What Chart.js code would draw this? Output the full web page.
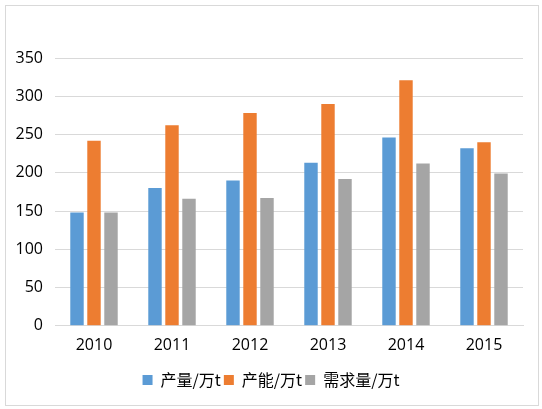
<!DOCTYPE html>
<html>
<head>
<meta charset="utf-8">
<script src="https://cdn.jsdelivr.net/npm/chart.js@4"></script>
<style>
html,body{margin:0;padding:0;background:#fff;}
#wrap{position:relative;width:542px;height:409px;}
#frame{position:absolute;left:5px;top:5px;width:532px;height:399px;border:1px solid #d9d9d9;pointer-events:none;}
canvas{position:absolute;left:0;top:0;}
</style>
</head>
<body>
<div id="wrap"><canvas id="c" width="542" height="409"></canvas><div id="frame"></div></div>
<script>
const categories = ['2010','2011','2012','2013','2014','2015'];
const seriesNames = ['产量/万t','产能/万t','需求量/万t'];
const output = [148,180,190,213,246,232];
const capacity = [242,262,278,290,321,240];
const demand = [148,166,167,192,212,199];
const yTicks = [0,50,100,150,200,250,300,350];
const colors = ['#5b9bd5','#ed7d31','#a5a5a5'];

const fontFamily = "'Open Sans','Noto Sans CJK SC',sans-serif";
new Chart(document.getElementById('c'), {
  type: 'bar',
  data: {
    labels: categories,
    datasets: [
      {label: seriesNames[0], data: output, backgroundColor: colors[0]},
      {label: seriesNames[1], data: capacity, backgroundColor: colors[1]},
      {label: seriesNames[2], data: demand, backgroundColor: colors[2]}
    ]
  },
  options: {
    responsive: false,
    animation: false,
    devicePixelRatio: 1,
    categoryPercentage: 0.654,
    barPercentage: 0.79,
    layout: {padding: {top: 58, right: 19, left: 0, bottom: 11}},
    plugins: {
      tooltip: {enabled: false},
      legend: {
        position: 'bottom',
        labels: {
          boxWidth: 10, boxHeight: 10, padding: 3,
          color: '#000',
          font: {family: "'Noto Sans CJK SC',sans-serif", size: 16}
        }
      }
    },
    scales: {
      x: {
        grid: {display: false, drawTicks: false},
        border: {color: '#d9d9d9', width: 1},
        afterFit: s => { s.height += 4; },
        ticks: {color: '#000', padding: 10, font: {family: fontFamily, size: 16}}
      },
      y: {
        min: 0, max: 350,
        afterBuildTicks: s => { s.ticks = yTicks.map(v => ({value: v})); },
        afterFit: s => { s.width = 55; },
        grid: {color: '#d9d9d9', drawTicks: false},
        border: {display: false},
        ticks: {color: '#000', padding: 12, font: {family: fontFamily, size: 16}}
      }
    }
  },
  plugins: [{
    id: 'centerLegend',
    afterLayout(chart) {
      const lg = chart.legend;
      if (lg) { lg.left = 0; lg.right = chart.width; }
    }
  }]
});
</script>
</body>
</html>
